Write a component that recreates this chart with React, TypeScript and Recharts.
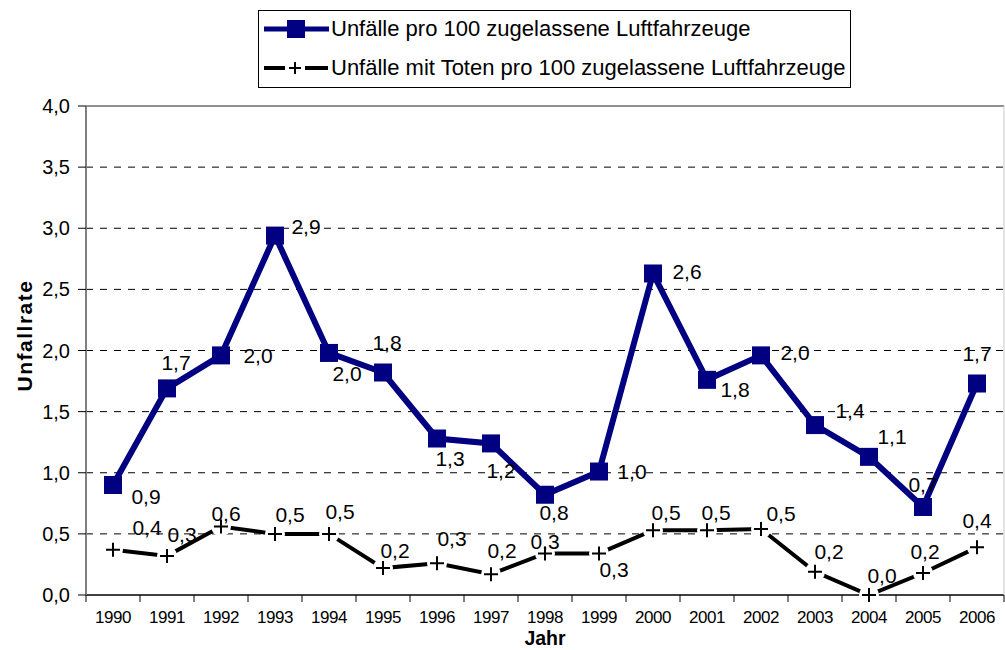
import React from 'react';
import { LineChart, Line, XAxis, YAxis, CartesianGrid, ReferenceLine, LabelList, Legend } from 'recharts';

const years = ['1990', '1991', '1992', '1993', '1994', '1995', '1996', '1997', '1998', '1999', '2000', '2001', '2002', '2003', '2004', '2005', '2006'];
const accidentsPer100 = [0.90, 1.69, 1.96, 2.94, 1.98, 1.82, 1.28, 1.24, 0.82, 1.01, 2.63, 1.76, 1.96, 1.39, 1.13, 0.72, 1.73];
const fatalPer100 = [0.37, 0.32, 0.56, 0.50, 0.50, 0.22, 0.26, 0.17, 0.34, 0.34, 0.53, 0.53, 0.54, 0.19, 0.00, 0.18, 0.39];
const yTicks = [0, 0.5, 1, 1.5, 2, 2.5, 3, 3.5, 4];
const gridValues = [0.5, 1, 1.5, 2, 2.5, 3, 3.5];
const seriesNames = ['Unfälle pro 100 zugelassene Luftfahrzeuge', 'Unfälle mit Toten pro 100 zugelassene Luftfahrzeuge'];
const yAxisTitle = 'Unfallrate';
const xAxisTitle = 'Jahr';

// label placement (style): offsets relative to each point
const accidentsLabelOffsets = [[33, 12], [9, -26], [37, 0], [31, -9], [18, 21], [4, -30], [13, 20], [10, 27], [9, 18], [33, 0], [34, -2], [28, 10], [34, -3], [35, -15], [23, -20], [0, -22], [0, -30]];
const fatalLabelOffsets = [[34, -22], [15, -21], [5, -13], [15, -19], [11, -22], [12, -18], [15, -25], [11, -24], [0, -12], [15, 16], [13, -18], [9, -18], [20, -15], [14, -20], [13, -20], [2, -21], [0, -27]];

const data = years.map((y, i) => ({ year: y, accidents: accidentsPer100[i], fatal: fatalPer100[i] }));

const FONT = '"Liberation Sans", Arial, Helvetica, sans-serif';
const NAVY = '#000080';
const X_TICK_MARGIN = 16;
const X_TICK_LEN = 7;

const fmt = (v: number) => v.toFixed(1).replace('.', ',');

const SquareDot = (props: any) => {
  const { cx, cy } = props;
  if (cx == null || cy == null) return null;
  return <rect x={cx - 9} y={cy - 9} width={18} height={18} fill={NAVY} />;
};

const PlusDot = (props: any) => {
  const { cx, cy } = props;
  if (cx == null || cy == null) return null;
  return (
    <g>
      <circle cx={cx} cy={cy} r={10} fill="#fff" />
      <path d={`M${cx - 7},${cy}H${cx + 7}M${cx},${cy - 7}V${cy + 7}`} stroke="#000" strokeWidth={2} />
    </g>
  );
};

const makeLabel = (offsets: number[][]) => (props: any) => {
  const { x, y, value, index } = props;
  if (x == null || y == null) return null;
  const [dx, dy] = offsets[index] || [0, -20];
  return (
    <text x={x + dx} y={y + dy} textAnchor="middle" dominantBaseline="central" fontFamily={FONT} fontSize={21} fill="#000">
      {fmt(Number(value))}
    </text>
  );
};

const YTick = (props: any) => {
  const { x, y, payload } = props;
  return (
    <text x={x} y={y} textAnchor="end" dominantBaseline="central" fontFamily={FONT} fontSize={20} fill="#000">
      {fmt(Number(payload.value))}
    </text>
  );
};

const XTick = (props: any) => {
  const { x, y, payload, index, width } = props;
  const half = payload && payload.offset ? payload.offset : width / (2 * years.length);
  const axisY = y - X_TICK_MARGIN;
  const isLast = index === years.length - 1;
  return (
    <g>
      <line x1={x - half} y1={axisY} x2={x - half} y2={axisY + X_TICK_LEN} stroke="#000" strokeWidth={1} />
      {isLast && <line x1={x + half} y1={axisY} x2={x + half} y2={axisY + X_TICK_LEN} stroke="#000" strokeWidth={1} />}
      <text x={x} y={y} textAnchor="middle" dominantBaseline="hanging" fontFamily={FONT} fontSize={17} fill="#000" letterSpacing={-0.4}>
        {payload.value}
      </text>
    </g>
  );
};

const YTitle = (props: any) => {
  const vb = props.viewBox || { x: 0, y: 0, width: 0, height: 0 };
  const cx = 24;
  const cy = vb.y + vb.height / 2 - 15;
  return (
    <text x={cx} y={cy} transform={`rotate(-90 ${cx} ${cy})`} textAnchor="middle" dominantBaseline="central" fontFamily={FONT} fontSize={21} fontWeight="bold" letterSpacing={1.5} fill="#000">
      {yAxisTitle}
    </text>
  );
};

const XTitle = (props: any) => {
  const vb = props.viewBox || { x: 0, y: 0, width: 0, height: 0 };
  return (
    <text x={vb.x + vb.width / 2} y={vb.y + 50} textAnchor="middle" fontFamily={FONT} fontSize={19.5} fontWeight="bold" fill="#000">
      {xAxisTitle}
    </text>
  );
};

const LegendBox = () => (
  <div style={{ position: 'relative', width: 593, height: 78, border: '1px solid #000', boxSizing: 'border-box', background: '#fff', fontFamily: FONT, fontSize: 22, color: '#000' }}>
    {seriesNames.map((name, i) => (
      <div key={name} style={{ position: 'absolute', left: 4, top: i === 0 ? 2 : 41, height: 32, display: 'flex', alignItems: 'center', whiteSpace: 'nowrap' }}>
        <svg width={68} height={24} style={{ display: 'block' }}>
          {i === 0 ? (
            <g>
              <line x1={1} y1={12} x2={66} y2={12} stroke={NAVY} strokeWidth={5} />
              <rect x={24} y={3} width={18} height={18} fill={NAVY} />
            </g>
          ) : (
            <g>
              <line x1={1} y1={12} x2={22} y2={12} stroke="#000" strokeWidth={4} />
              <line x1={42} y1={12} x2={65} y2={12} stroke="#000" strokeWidth={4} />
              <path d="M26,12H38M32,6V18" stroke="#000" strokeWidth={2} />
            </g>
          )}
        </svg>
        <span style={{ marginLeft: 0 }}>{name}</span>
      </div>
    ))}
  </div>
);

export default function App() {
  return (
    <div style={{ position: 'absolute', left: 0, top: 0, width: 1005, height: 650, background: '#fff' }}>
      <LineChart width={1005} height={650} data={data} margin={{ top: 106, right: 0, bottom: 0, left: 0 }}>
        <CartesianGrid vertical={false} horizontalValues={gridValues} stroke="#000" strokeDasharray="7 7" />
        <ReferenceLine y={4} stroke="#909090" strokeWidth={2} />
        <XAxis
          dataKey="year"
          scale="band"
          height={55}
          tickLine={false}
          tickSize={0}
          tickMargin={X_TICK_MARGIN}
          axisLine={{ stroke: '#000', strokeWidth: 1.5 }}
          tick={<XTick />}
          interval={0}
          label={<XTitle />}
        />
        <YAxis
          width={86}
          domain={[0, 4]}
          ticks={yTicks}
          interval={0}
          tickSize={8}
          tickMargin={8}
          tickLine={{ stroke: '#000' }}
          axisLine={{ stroke: '#808080', strokeWidth: 2 }}
          tick={<YTick />}
          label={<YTitle />}
        />
        <YAxis
          yAxisId="right"
          orientation="right"
          width={1}
          domain={[0, 4]}
          tick={false}
          tickLine={false}
          axisLine={{ stroke: '#c8c8c8', strokeWidth: 1 }}
        />
        <Legend verticalAlign="middle" layout="horizontal" wrapperStyle={{ top: 10, left: 258, width: 593 }} content={<LegendBox />} />
        <Line
          dataKey="fatal"
          name={seriesNames[1]}
          stroke="#000"
          strokeWidth={4}
          dot={<PlusDot />}
          activeDot={false}
          isAnimationActive={false}
        >
          <LabelList dataKey="fatal" content={makeLabel(fatalLabelOffsets)} />
        </Line>
        <Line
          dataKey="accidents"
          name={seriesNames[0]}
          stroke={NAVY}
          strokeWidth={6}
          dot={<SquareDot />}
          activeDot={false}
          isAnimationActive={false}
        >
          <LabelList dataKey="accidents" content={makeLabel(accidentsLabelOffsets)} />
        </Line>
      </LineChart>
    </div>
  );
}
